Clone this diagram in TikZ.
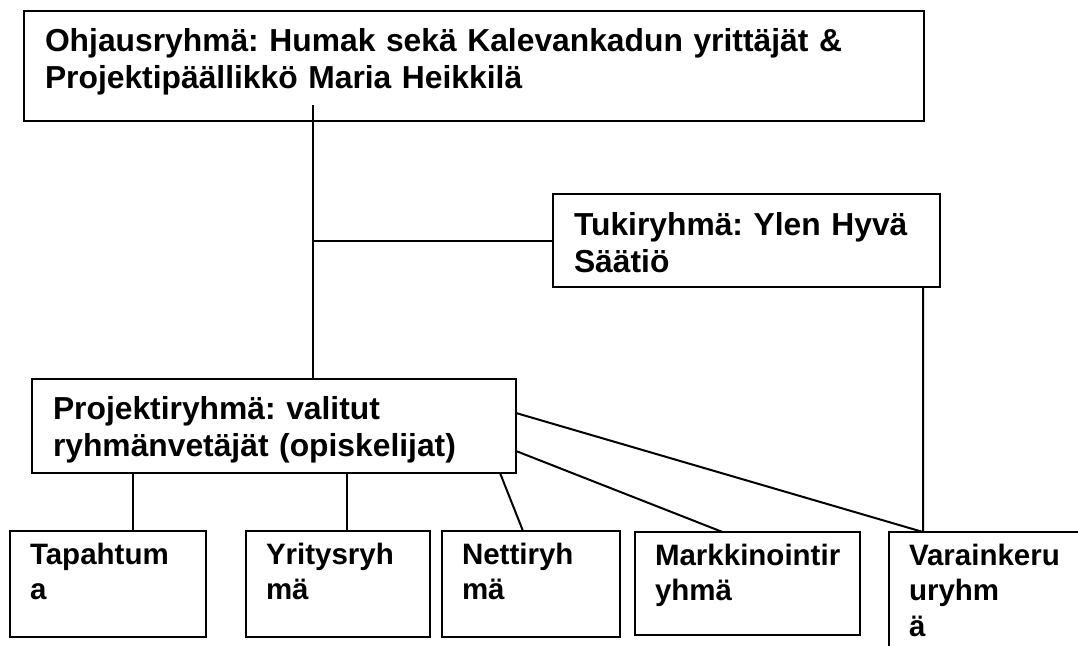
\documentclass[tikz,border=0pt]{standalone}
\usepackage{fontspec}
\setmainfont{Liberation Sans}
\usepackage{tikz}
\usetikzlibrary{positioning}
\frenchspacing
\newcommand{\bigtext}{\fontsize{31.8bp}{37bp}\selectfont\bfseries}
\newcommand{\smalltext}{\fontsize{29.5bp}{35.5bp}\selectfont\bfseries}

\begin{document}
\begin{tikzpicture}[
  x=1bp, y=1bp,
  box/.style={draw, line width=2.8bp, align=left, inner xsep=21bp, inner ysep=0pt, outer sep=0pt, font=\bigtext},
  group/.style={box, inner xsep=20bp, font=\smalltext, text height=33bp, text depth=73bp},
  link/.style={line width=2bp}]
\useasboundingbox (0,0) rectangle (1078,-646);
\node[box, anchor=north west, text width=858bp, text height=41bp, text depth=69bp] (steer) at (24,-11)
  {Ohjausryhmä: Humak sekä Kalevankadun yrittäjät \&\\Projektipäällikkö Maria Heikkilä};
\node[box, below right=73bp and 529bp of steer.south west, text width=345bp, text height=41bp, text depth=52bp] (tuki)
  {Tukiryhmä: Ylen Hyvä\\Säätiö};
\node[box, below=258bp of steer.south west, anchor=north west, xshift=8bp, text width=442bp, text height=40bp, text depth=54bp] (proj)
  {Projektiryhmä: valitut\\ryhmänvetäjät (opiskelijat)};
\node[group, below=58bp of proj.south west, anchor=north west, xshift=-22bp, text width=156bp] (tap) {Tapahtum\\a};
\node[group, right=40bp of tap.north east, anchor=north west, text width=144bp] (yri) {Yritysryh\\mä};
\node[group, right=12bp of yri.north east, anchor=north west, text width=138bp] (net) {Nettiryh\\mä};
\node[group, right=15bp of net.north east, anchor=north west, yshift=-1bp, text width=185bp, text depth=70bp] (mark) {Markkinointir\\yhmä};
\node[group, right=29bp of mark.north east, anchor=north west, text width=160bp, text depth=100bp] (vara) {Varainkeru\\uryhm\\ä};
\coordinate[right=289bp of steer.south west] (spine);
\draw[link] ([yshift=16bp]spine) -- (spine |- proj.north);
\draw[link] (spine |- tuki.west) -- (tuki.west);
\draw[link] ([xshift=25bp]tap.north) -- ([xshift=25bp]tap.north |- proj.south);
\draw[link] ([xshift=9bp]yri.north) -- ([xshift=9bp]yri.north |- proj.south);
\draw[link] ([xshift=-16bp]proj.south east) -- ([xshift=-8bp]net.north);
\draw[link] ([yshift=22bp]proj.south east) -- ([xshift=-25bp]mark.north);
\draw[link] ([yshift=-34bp]proj.north east) -- ([xshift=34bp]vara.north west);
\draw[link] ([xshift=-17bp]tuki.south east) -- ([xshift=34bp]vara.north west);
\end{tikzpicture}
\end{document}
